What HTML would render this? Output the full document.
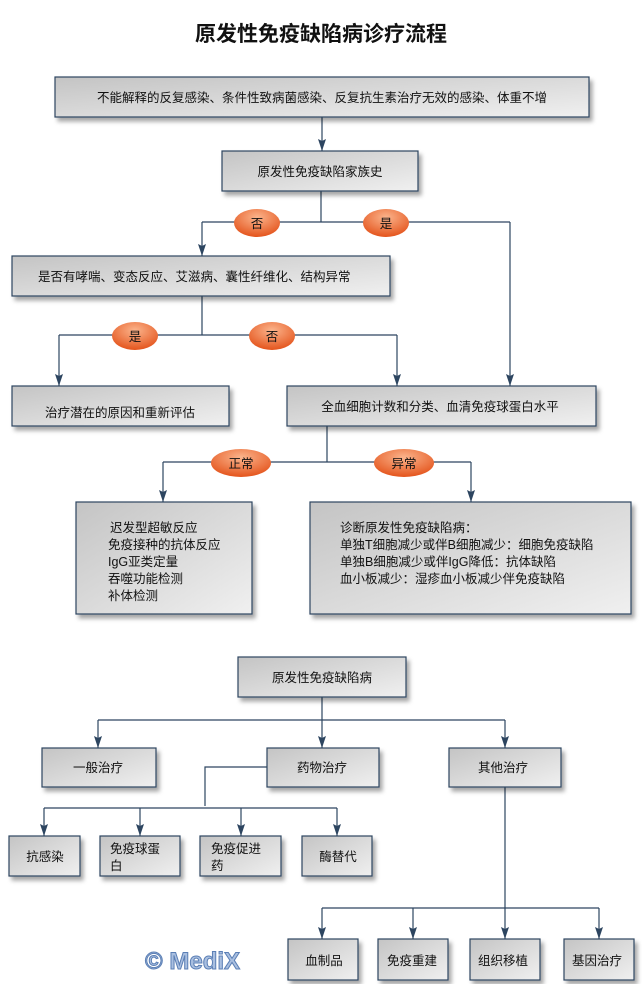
<!DOCTYPE html>
<html><head><meta charset="utf-8"><style>
html,body{margin:0;padding:0;background:#fff;width:642px;height:984px;overflow:hidden}
svg{display:block}
text{font-family:"Liberation Sans","Noto Sans CJK SC",sans-serif;font-size:12.5px;fill:#111}
</style></head><body>
<svg width="642" height="984" viewBox="0 0 642 984" xmlns="http://www.w3.org/2000/svg">
<defs>
<linearGradient id="g" x1="0" y1="0" x2="1" y2="1">
<stop offset="0" stop-color="#c4c4c4"/><stop offset="1" stop-color="#f0f0f0"/></linearGradient>
<radialGradient id="o" cx="0.5" cy="0.3" r="0.7">
<stop offset="0" stop-color="#fbb48c"/><stop offset="1" stop-color="#e4541c"/></radialGradient>
<marker id="a" markerWidth="12" markerHeight="8" refX="12" refY="4" orient="auto" markerUnits="userSpaceOnUse">
<path d="M0,0 L12,4 L0,8 L2,4 Z" fill="#2d4560"/></marker>
<filter id="s" x="-10%" y="-10%" width="130%" height="140%"><feDropShadow dx="3" dy="4" stdDeviation="2" flood-color="#000" flood-opacity="0.35"/></filter>
</defs>
<text x="321" y="41" text-anchor="middle" style="font-size:21px;font-weight:bold">原发性免疫缺陷病诊疗流程</text>
<g stroke="#2d4560" stroke-width="1.2" fill="none">
<path d="M322,117 V151" marker-end="url(#a)"/>
<path d="M321,191 V222 M202,222 H510"/>
<path d="M202,222 V256" marker-end="url(#a)"/>
<path d="M510,222 V386" marker-end="url(#a)"/>
<path d="M202,296 V335 M59,335 H397"/>
<path d="M59,335 V386" marker-end="url(#a)"/>
<path d="M397,335 V386" marker-end="url(#a)"/>
<path d="M327,426 V462 M163,462 H471"/>
<path d="M163,462 V502" marker-end="url(#a)"/>
<path d="M471,462 V502" marker-end="url(#a)"/>
<path d="M322,697 V720 M98,720 H505"/>
<path d="M98,720 V748" marker-end="url(#a)"/>
<path d="M322,720 V748" marker-end="url(#a)"/>
<path d="M505,720 V748" marker-end="url(#a)"/>
<path d="M267,767 H205 V806 M44,808 H337"/>
<path d="M44,808 V836" marker-end="url(#a)"/>
<path d="M140,808 V836" marker-end="url(#a)"/>
<path d="M241,808 V836" marker-end="url(#a)"/>
<path d="M337,808 V836" marker-end="url(#a)"/>
<path d="M322,908 H599"/>
<path d="M505,787 V939" marker-end="url(#a)"/>
<path d="M322,908 V939" marker-end="url(#a)"/>
<path d="M413,908 V939" marker-end="url(#a)"/>
<path d="M599,908 V939" marker-end="url(#a)"/>
</g>
<g fill="url(#g)" stroke="#2d4560" stroke-width="1.2" filter="url(#s)">
<rect x="55" y="77" width="534" height="40"/>
<rect x="222" y="151" width="196" height="40"/>
<rect x="12" y="256" width="378" height="40"/>
<rect x="12" y="386" width="217" height="40"/>
<rect x="287" y="386" width="309" height="40"/>
<rect x="76" y="502" width="176" height="112"/>
<rect x="310" y="502" width="321" height="112"/>
<rect x="238" y="657" width="168" height="40"/>
<rect x="42" y="748" width="114" height="39"/>
<rect x="267" y="748" width="112" height="39"/>
<rect x="449" y="748" width="112" height="39"/>
<rect x="9" y="836" width="71" height="40"/>
<rect x="100" y="836" width="80" height="40"/>
<rect x="200" y="836" width="81" height="40"/>
<rect x="302" y="836" width="70" height="40"/>
<rect x="288" y="939" width="70" height="41"/>
<rect x="378" y="939" width="70" height="41"/>
<rect x="470" y="939" width="70" height="41"/>
<rect x="564" y="939" width="70" height="41"/>
</g>
<g fill="url(#o)">
<ellipse cx="257" cy="223" rx="23" ry="14"/><ellipse cx="386" cy="223" rx="23" ry="14"/>
<ellipse cx="135" cy="336" rx="23" ry="14"/><ellipse cx="272" cy="336" rx="23" ry="14"/>
<ellipse cx="241" cy="463" rx="30" ry="14"/><ellipse cx="404" cy="463" rx="30" ry="14"/>
</g>
<g text-anchor="middle">
<text x="257" y="228">否</text><text x="386" y="228">是</text>
<text x="135" y="341">是</text><text x="272" y="341">否</text>
<text x="241" y="468">正常</text><text x="404" y="468">异常</text>
<text x="322" y="102">不能解释的反复感染、条件性致病菌感染、反复抗生素治疗无效的感染、体重不增</text>
<text x="320" y="176">原发性免疫缺陷家族史</text>
<text x="120" y="417">治疗潜在的原因和重新评估</text>
<text x="440" y="411">全血细胞计数和分类、血清免疫球蛋白水平</text>
<text x="322" y="682">原发性免疫缺陷病</text>
<text x="98" y="772">一般治疗</text>
<text x="322" y="772">药物治疗</text>
<text x="503" y="772">其他治疗</text>
<text x="45" y="861">抗感染</text>
<text x="338" y="861">酶替代</text>
<text x="324" y="965">血制品</text>
<text x="412" y="965">免疫重建</text>
<text x="503" y="965">组织移植</text>
<text x="597" y="965">基因治疗</text>
</g>
<text x="38" y="281">是否有哮喘、变态反应、艾滋病、囊性纤维化、结构异常</text>
<text x="110" y="532">迟发型超敏反应</text>
<text x="108" y="549">免疫接种的抗体反应</text>
<text x="108" y="566">IgG亚类定量</text>
<text x="108" y="583">吞噬功能检测</text>
<text x="108" y="600">补体检测</text>
<text x="340" y="532">诊断原发性免疫缺陷病：</text>
<text x="340" y="549">单独T细胞减少或伴B细胞减少：细胞免疫缺陷</text>
<text x="340" y="566">单独B细胞减少或伴IgG降低：抗体缺陷</text>
<text x="340" y="583">血小板减少：湿疹血小板减少伴免疫缺陷</text>
<text x="110" y="853">免疫球蛋</text><text x="110" y="870">白</text>
<text x="211" y="853">免疫促进</text><text x="211" y="870">药</text>
<text x="145" y="969" style="font-size:24px;font-weight:bold;fill:#a9bfe0;stroke:#5b7fb5;stroke-width:1">© MediX</text>
</svg>
</body></html>
